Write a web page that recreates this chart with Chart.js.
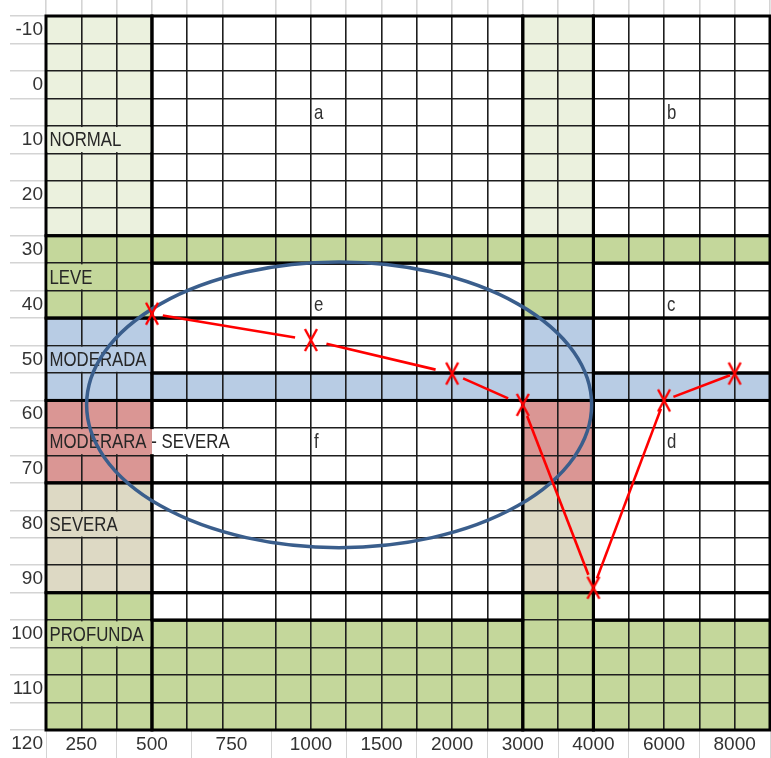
<!DOCTYPE html>
<html><head><meta charset="utf-8">
<script src="https://cdn.jsdelivr.net/npm/chart.js@4/dist/chart.umd.min.js"></script>
<style>html,body{margin:0;padding:0;background:#fff;overflow:hidden}canvas{display:block}</style>
</head><body>
<canvas id="c" width="771" height="758"></canvas>
<script>
// ---------- data ----------
const freqLabels = ['250', '500', '750', '1000', '1500', '2000', '3000', '4000', '6000', '8000'];
const freqSlots  = [1, 3, 5.25, 7.5, 9.5, 11.5, 13.5, 15.5, 17.5, 19.5];   // column slot of each frequency
const testedFreqs  = ['500', '1000', '2000', '3000', '4000', '6000', '8000'];
const thresholdsDb = [41.7, 46.5, 52.6, 58.3, 91.6, 57.5, 52.6];

const dbTickValues = [-10, -5, 0, 5, 10, 15, 20, 25, 30, 35, 40, 45, 50, 55, 60, 65, 70, 75, 80, 85, 90, 95, 100, 105, 110, 115, 120];
const dbTickLabels = ['-10', '0', '10', '20', '30', '40', '50', '60', '70', '80', '90', '100', '110', '120'];
const gridColumns  = [0, 1, 2, 3, 4, 5, 6.5, 7.5, 8.5, 9.5, 10.5, 11.5, 12.5, 13.5, 14.5, 15.5, 16.5, 17.5, 18.5, 19.5, 20.5];

// hearing-loss classification bands (dB from, dB to, fill)
const keyColumns = [[0, 3], [13.5, 15.5]];
const keyBands = [[-12.5, 27.5, 'pale'], [27.5, 42.5, 'green'], [42.5, 57.5, 'blue'], [57.5, 72.5, 'red'], [72.5, 92.5, 'tan'], [92.5, 117.5, 'green']];
const openColumns = [[3, 13.5], [15.5, 20.5]];
const openBands = [[-12.5, 27.5, 'white'], [27.5, 32.5, 'green'], [32.5, 42.5, 'white'], [42.5, 52.5, 'white'], [52.5, 57.5, 'blue'], [57.5, 72.5, 'white'], [72.5, 92.5, 'white'], [92.5, 97.5, 'white'], [97.5, 117.5, 'green']];

const zoneNames = ['NORMAL', 'LEVE', 'MODERADA', 'MODERARA - SEVERA', 'SEVERA', 'PROFUNDA'];
const zoneRows  = [10, 35, 50, 65, 80, 100];
const zoneCover = [[[0, 3, 'pale']], [[0, 2, 'green']], [[0, 3, 'blue']], [[0, 3, 'red'], [3, 6.5, 'white']], [[0, 3, 'tan']], [[0, 3, 'green']]];

const regionLetters = ['a', 'b', 'e', 'c', 'f', 'd'];
const regionSlots   = [7.5, 17.5, 7.5, 17.5, 7.5, 17.5];
const regionRows    = [5, 5, 40, 40, 65, 65];

const ellipseShape = {cx: 8.3, cy: 58.3, rx: 7.15, ry: 26.0};

// ---------- styles ----------
const FILL = {pale: '#ebf1de', green: '#c4d79b', blue: '#b8cce4', red: '#da9694', tan: '#ddd9c4', white: '#ffffff'};
const FONT = "'Liberation Sans', Arial, sans-serif";
const THIN = '#1e1e1e', LIGHT = '#d4d4d4';
const gapStart = [11, 16, 12, 12, 10, 10];
const gapEnd   = [16, 17, 16, 14, 9, 5];

function makeCross() {
  const c = document.createElement('canvas');
  c.width = 16; c.height = 26;
  const g = c.getContext('2d');
  g.strokeStyle = '#ff0000'; g.lineWidth = 2.4;
  g.beginPath(); g.moveTo(2, 2); g.lineTo(14, 24); g.moveTo(14, 2); g.lineTo(2, 24); g.stroke();
  return c;
}
const cross = makeCross();

const points = testedFreqs.map((f, i) => ({x: freqSlots[freqLabels.indexOf(f)], y: thresholdsDb[i]}));

function rects() {
  const out = [];
  keyColumns.forEach(c => keyBands.forEach(b => out.push([c[0], c[1], b[0], b[1], b[2]])));
  openColumns.forEach(c => openBands.forEach(b => out.push([c[0], c[1], b[0], b[1], b[2]])));
  return out;
}

function narrowText(ctx, text, px, py) {
  ctx.save();
  ctx.translate(px, py);
  ctx.scale(0.8, 1);
  ctx.fillText(text, 0, 0);
  ctx.restore();
}

const zonesPlugin = {
  id: 'zones',
  beforeDraw(chart) {
    const {ctx, scales: {x, y}} = chart;
    ctx.save();
    ctx.fillStyle = '#fff'; ctx.fillRect(0, 0, chart.width, chart.height);
    rects().forEach(r => {
      const x0 = x.getPixelForValue(r[0]), x1 = x.getPixelForValue(r[1]);
      const y0 = y.getPixelForValue(r[2]), y1 = y.getPixelForValue(r[3]);
      ctx.fillStyle = FILL[r[4]];
      ctx.fillRect(x0, y0, x1 - x0, y1 - y0);
    });
    ctx.restore();
  },
  beforeDatasetsDraw(chart) {
    const {ctx, scales: {x, y}} = chart;
    ctx.save();
    // thick outlines
    ctx.strokeStyle = '#000'; ctx.lineWidth = 3;
    rects().forEach(r => {
      const x0 = x.getPixelForValue(r[0]), x1 = x.getPixelForValue(r[1]);
      const y0 = y.getPixelForValue(r[2]), y1 = y.getPixelForValue(r[3]);
      ctx.strokeRect(x0, y0, x1 - x0, y1 - y0);
    });
    // zone labels (cover cell borders like overflowing sheet text)
    ctx.font = '21px ' + FONT;
    ctx.textBaseline = 'middle'; ctx.textAlign = 'left';
    zoneNames.forEach((name, i) => {
      const row = zoneRows[i];
      const yt = y.getPixelForValue(row - 2.5) + 1.2, yb = y.getPixelForValue(row + 2.5) - 1.2;
      const spans = zoneCover[i];
      spans.forEach((s, j) => {
        let a = x.getPixelForValue(s[0]), b = x.getPixelForValue(s[1]);
        if (j === 0) a += 1.6;
        if (j === spans.length - 1) b -= (s[1] === 3 ? 1.6 : 0.9);
        ctx.fillStyle = FILL[s[2]];
        ctx.fillRect(a, yt, b - a, yb - yt);
      });
      ctx.fillStyle = '#262626';
      narrowText(ctx, name, x.getPixelForValue(0) + 3.5, y.getPixelForValue(row) + 1);
    });
    regionLetters.forEach((t, i) => {
      ctx.fillStyle = '#333';
      narrowText(ctx, t, x.getPixelForValue(regionSlots[i]) + 3, y.getPixelForValue(regionRows[i]) + 1);
    });
    // ellipse
    const cx = x.getPixelForValue(ellipseShape.cx), cy = y.getPixelForValue(ellipseShape.cy);
    const rx = x.getPixelForValue(ellipseShape.cx + ellipseShape.rx) - cx;
    const ry = y.getPixelForValue(ellipseShape.cy + ellipseShape.ry) - cy;
    ctx.strokeStyle = '#3a5e8c'; ctx.lineWidth = 3.5;
    ctx.beginPath(); ctx.ellipse(cx, cy, rx, ry, 0, 0, Math.PI * 2); ctx.stroke();
    ctx.restore();
  }
};

Chart.defaults.font.family = FONT;
Chart.defaults.font.size = 19;
Chart.defaults.color = '#333';

function noPadX(s, h) { s.height = h; s.paddingLeft = 0; s.paddingRight = 0; }

new Chart(document.getElementById('c'), {
  type: 'line',
  data: {
    datasets: [{
      data: points,
      borderColor: '#ff0000',
      borderWidth: 2.6,
      pointStyle: cross,
      pointRadius: 8,
      tension: 0,
      clip: false,
      segment: {
        borderDash: c => {
          const i = c.p0DataIndex;
          const L = Math.hypot(c.p1.x - c.p0.x, c.p1.y - c.p0.y);
          return [0, gapStart[i], Math.max(0, L - gapStart[i] - gapEnd[i]), L + 200];
        }
      }
    }]
  },
  options: {
    responsive: false,
    animation: false,
    layout: {autoPadding: false, padding: {left: 0, top: 0, bottom: 0, right: 1}},
    plugins: {legend: {display: false}, tooltip: {enabled: false}},
    scales: {
      x: {
        type: 'linear', position: 'bottom', min: 0, max: 20.5, bounds: 'data',
        afterBuildTicks: s => { s.ticks = freqSlots.map(v => ({value: v})); },
        afterFit: s => noPadX(s, 28),
        ticks: {autoSkip: false, maxRotation: 0, padding: -25, color: '#333',
          callback: (v, i) => freqLabels[i]},
        grid: {offset: true, drawOnChartArea: false, tickLength: 28, tickColor: LIGHT, lineWidth: 1},
        border: {display: false}
      },
      xg: {
        type: 'linear', position: 'top', min: 0, max: 20.5, bounds: 'data',
        afterBuildTicks: s => { s.ticks = gridColumns.map(v => ({value: v})); },
        afterFit: s => noPadX(s, 16),
        ticks: {display: false, autoSkip: false},
        grid: {color: THIN, lineWidth: 1.6, tickLength: 16, tickColor: LIGHT},
        border: {display: false}
      },
      y: {
        type: 'linear', position: 'left', reverse: true, min: -12.5, max: 117.5, bounds: 'data',
        afterBuildTicks: s => { s.ticks = dbTickValues.map(v => ({value: v})); },
        afterFit: s => { s.width = 46; s.paddingTop = 0; s.paddingBottom = 0; },
        ticks: {autoSkip: false, padding: -33, color: '#333',
          callback: v => dbTickLabels.includes(String(v)) ? String(v) : ''},
        grid: {offset: true, color: THIN, lineWidth: 1.6, tickLength: 36, tickColor: LIGHT},
        border: {display: false}
      }
    }
  },
  plugins: [zonesPlugin]
});
</script>
</body></html>
